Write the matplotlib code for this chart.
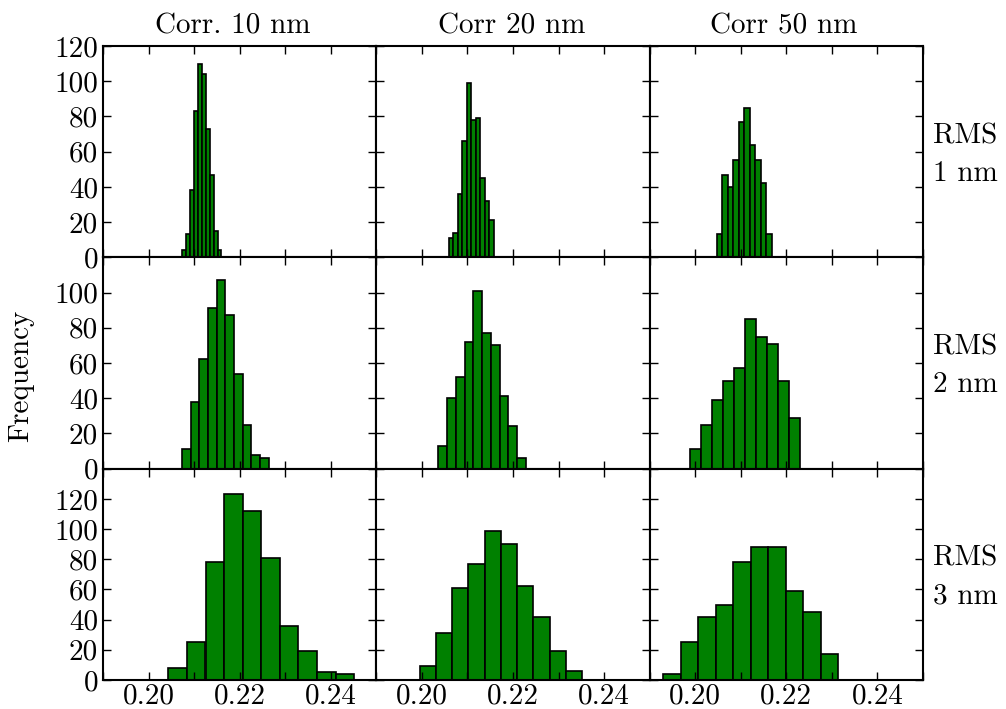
import numpy as np
import matplotlib
matplotlib.use("Agg")
import matplotlib.pyplot as plt

plt.rcParams['font.family'] = ['cmr10', 'DejaVu Serif']
plt.rcParams['mathtext.fontset'] = 'cm'
plt.rcParams['axes.unicode_minus'] = False

col_titles = ["Corr. 10 nm", "Corr 20 nm", "Corr 50 nm"]
row_labels = ["RMS\n1 nm", "RMS\n2 nm", "RMS\n3 nm"]

# bin ranges (first edge, last edge) and counts for each panel, row-major
rms1_corr10_range = (0.20736, 0.21600)
rms1_corr10_counts = [4, 13, 38, 83, 110, 104, 73, 47, 15, 4]
rms1_corr20_range = (0.20588, 0.21573)
rms1_corr20_counts = [11, 14, 36, 66, 99, 78, 79, 45, 32, 21]
rms1_corr50_range = (0.20478, 0.21676)
rms1_corr50_counts = [13, 47, 40, 55, 77, 85, 64, 55, 42, 13]

rms2_corr10_range = (0.20736, 0.22633)
rms2_corr10_counts = [11, 38, 62, 91, 107, 87, 54, 25, 8, 6]
rms2_corr20_range = (0.20360, 0.22286)
rms2_corr20_counts = [13, 40, 52, 72, 101, 77, 70, 41, 24, 6]
rms2_corr50_range = (0.19896, 0.22309)
rms2_corr50_counts = [11, 25, 39, 50, 57, 85, 75, 71, 50, 29]

rms3_corr10_range = (0.20434, 0.24514)
rms3_corr10_counts = [8, 25, 78, 123, 112, 81, 36, 19, 5, 4]
rms3_corr20_range = (0.19949, 0.23521)
rms3_corr20_counts = [9, 31, 61, 77, 99, 90, 62, 42, 19, 6]
rms3_corr50_range = (0.19301, 0.23138)
rms3_corr50_counts = [4, 25, 42, 50, 78, 88, 88, 59, 45, 17]

panels = [
    [(rms1_corr10_range, rms1_corr10_counts), (rms1_corr20_range, rms1_corr20_counts), (rms1_corr50_range, rms1_corr50_counts)],
    [(rms2_corr10_range, rms2_corr10_counts), (rms2_corr20_range, rms2_corr20_counts), (rms2_corr50_range, rms2_corr50_counts)],
    [(rms3_corr10_range, rms3_corr10_counts), (rms3_corr20_range, rms3_corr20_counts), (rms3_corr50_range, rms3_corr50_counts)],
]

row_ylims = [120, 120, 140]
x_ticks = [0.19, 0.20, 0.21, 0.22, 0.23, 0.24, 0.25]
x_tick_labels = ["", "0.20", "", "0.22", "", "0.24", ""]
title_x = [0.475, 0.495, 0.49]

fig = plt.figure(figsize=(10.06, 7.09), dpi=100)
gs = fig.add_gridspec(3, 3, left=103/1006, right=923/1006, top=1-46/709, bottom=1-680/709,
                      wspace=0, hspace=0)

FS = 21
for r in range(3):
    for c in range(3):
        ax = fig.add_subplot(gs[r, c])
        (lo, hi), counts = panels[r][c]
        edges = np.linspace(lo, hi, len(counts) + 1)
        ax.hist(edges[:-1], bins=edges, weights=counts, color='green',
                edgecolor='black', linewidth=1.2)
        ax.set_xlim(0.19, 0.25)
        ymax = row_ylims[r]
        ax.set_ylim(0, ymax)
        yt = list(range(0, ymax + 1, 20))
        ax.set_yticks(yt)
        if c == 0:
            labels = [str(v) for v in yt]
            if r > 0:
                labels[-1] = ""
            ax.set_yticklabels(labels, fontsize=FS)
        else:
            ax.set_yticklabels([])
        ax.set_xticks(x_ticks)
        if r == 2:
            ax.set_xticklabels(x_tick_labels, fontsize=FS)
        else:
            ax.set_xticklabels([])
        ax.tick_params(direction='in', length=6, width=1, top=True, right=True,
                       colors='black')
        ax.tick_params(axis='y', pad=3.5)
        ax.tick_params(axis='x', pad=2.5)
        for s in ax.spines.values():
            s.set_linewidth(1.5)
        if r == 0:
            ax.set_title(col_titles[c], fontsize=FS, pad=9, x=title_x[c])
        if c == 2:
            ax.text(1.035, 0.486, row_labels[r], transform=ax.transAxes,
                    ha='left', va='center', fontsize=FS, linespacing=1.55)

fig.text(21/1006, 1-376/709, "Frequency", rotation=90, ha='center', va='center', fontsize=FS)

fig.savefig("out.png", dpi=100)
